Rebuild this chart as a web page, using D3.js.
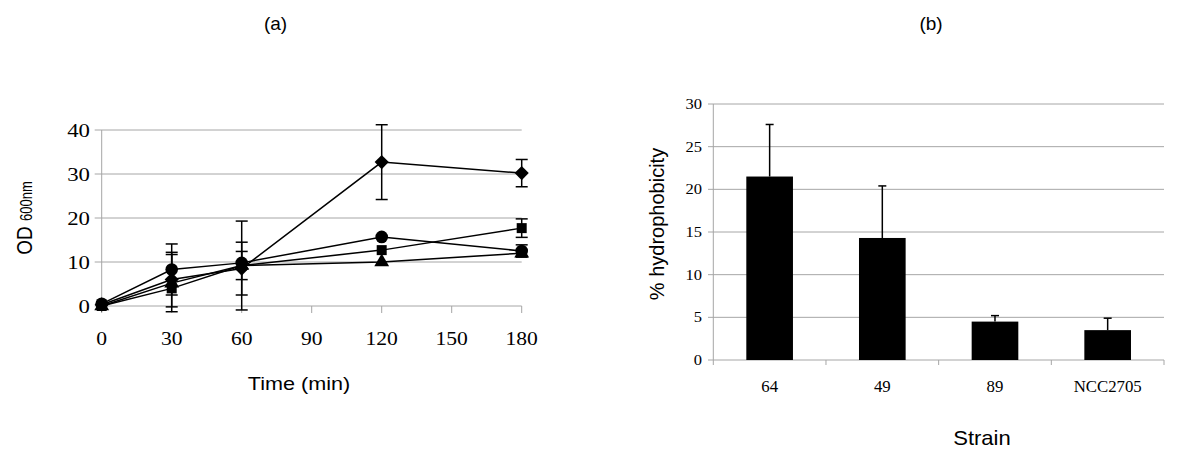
<!DOCTYPE html>
<html><head><meta charset="utf-8">
<script src="https://cdn.jsdelivr.net/npm/d3@7"></script>
<style>body{margin:0;background:#fff}svg{display:block}</style>
</head><body>
<svg id="c" width="1200" height="464"></svg>
<script>
// ---- Panel (a) data ----
const times = [0, 30, 60, 120, 180];
const diamondVals = [0.3, 6.0, 8.5, 32.7, 30.2];
const diamondErr  = [0, 6.2, 6.0, 8.5, 3.1];
const squareVals  = [0.0, 4.0, 9.2, 12.7, 17.7];
const squareErr   = [0, 0, 3.2, 0, 2.1];
const circleVals  = [0.5, 8.3, 9.8, 15.7, 12.5];
const circleErr   = [0, 5.8, 0, 0, 1.4];
const triangleVals= [0.0, 5.2, 9.2, 10.0, 12.0];
const triangleErr = [0, 6.5, 10.1, 0, 0];
const aYTicks = [0, 10, 20, 30, 40];
const aXTicks = [0, 30, 60, 90, 120, 150, 180];

// ---- Panel (b) data ----
const strains = ["64", "49", "89", "NCC2705"];
const hydro    = [21.5, 14.3, 4.5, 3.5];
const hydroErr = [6.1, 6.1, 0.7, 1.4];
const bYTicks = [0, 5, 10, 15, 20, 25, 30];

const svg = d3.select("#c");
const SANS = "'Liberation Sans', Arial, sans-serif";
const SERIF = "'Liberation Serif', 'Times New Roman', serif";
const GRID = "#a6a6a6";

function txt(g, x, y, s, opts) {
  const t = g.append("text")
    .attr("transform", `translate(${x},${y}) ${opts.rot ? "rotate(" + opts.rot + ")" : ""} scale(${opts.sx || 1},1)`)
    .attr("text-anchor", opts.anchor || "middle")
    .attr("font-family", opts.font || SANS)
    .attr("font-size", opts.size || 16)
    .attr("fill", "#000")
    .text(s);
  return t;
}

// ================= Panel (a) =================
const ga = svg.append("g");
const xa = d3.scaleLinear().domain([0, 180]).range([101.7, 521.7]);
const ya = d3.scaleLinear().domain([0, 40]).range([306, 130]);

txt(ga, 275.5, 30, "(a)", {size: 19});

// gridlines
ga.selectAll("line.grid").data(aYTicks.filter(d => d > 0)).enter().append("line")
  .attr("x1", xa(0) - 7).attr("x2", xa(180))
  .attr("y1", d => ya(d)).attr("y2", d => ya(d))
  .attr("stroke", GRID).attr("stroke-width", 1);
// y axis line
ga.append("line").attr("x1", xa(0)).attr("x2", xa(0)).attr("y1", ya(40)).attr("y2", ya(0))
  .attr("stroke", GRID).attr("stroke-width", 1);
ga.append("line").attr("x1", xa(0) - 7).attr("x2", xa(180)).attr("y1", ya(0)).attr("y2", ya(0))
  .attr("stroke", GRID).attr("stroke-width", 1);
// x ticks
ga.selectAll("line.xt").data(aXTicks).enter().append("line")
  .attr("x1", d => xa(d)).attr("x2", d => xa(d)).attr("y1", ya(0)).attr("y2", ya(0) + 7)
  .attr("stroke", GRID).attr("stroke-width", 1);

aYTicks.forEach(d => txt(ga, 90, ya(d) + 7, String(d), {font: SERIF, size: 19, anchor: "end", sx: 1.2}));
aXTicks.forEach(d => txt(ga, xa(d), 345, String(d), {font: SERIF, size: 18, sx: 1.2}));

// axis titles
txt(ga, 299, 390, "Time (min)", {size: 18, sx: 1.2});
const od = ga.append("text")
  .attr("transform", "translate(32,218) rotate(-90) scale(1,1.2)")
  .attr("text-anchor", "middle").attr("font-family", SANS).attr("fill", "#000");
od.append("tspan").attr("font-size", 19).text("OD ");
od.append("tspan").attr("font-size", 13).text("600nm");

const series = [
  {vals: diamondVals, err: diamondErr, sym: "diamond"},
  {vals: squareVals, err: squareErr, sym: "square"},
  {vals: circleVals, err: circleErr, sym: "circle"},
  {vals: triangleVals, err: triangleErr, sym: "triangle"}
];
const line = d3.line().x((d, i) => xa(times[i])).y(d => ya(d));

// error bars
series.forEach(s => {
  s.vals.forEach((v, i) => {
    const e = s.err[i];
    if (!e) return;
    const x = xa(times[i]);
    ga.append("line").attr("x1", x).attr("x2", x).attr("y1", ya(v + e)).attr("y2", ya(v - e))
      .attr("stroke", "#000").attr("stroke-width", 1.5);
    [v + e, v - e].forEach(w => ga.append("line").attr("x1", x - 6).attr("x2", x + 6)
      .attr("y1", ya(w)).attr("y2", ya(w)).attr("stroke", "#000").attr("stroke-width", 1.5));
  });
});
// lines
series.forEach(s => {
  ga.append("path").attr("d", line(s.vals)).attr("fill", "none").attr("stroke", "#000").attr("stroke-width", 1.5);
});
// markers
const symMap = {
  diamond: {gen: d3.symbol().type(d3.symbolSquare).size(100), rot: 45},
  square: {gen: d3.symbol().type(d3.symbolSquare).size(100), rot: 0},
  circle: {gen: d3.symbol().type(d3.symbolCircle).size(125), rot: 0},
  triangle: {gen: d3.symbol().type(d3.symbolTriangle).size(95), rot: 0}
};
series.forEach(s => {
  const m = symMap[s.sym];
  ga.selectAll(null).data(s.vals).enter().append("path")
    .attr("d", m.gen())
    .attr("transform", (d, i) => `translate(${xa(times[i])},${ya(d)}) rotate(${m.rot})`)
    .attr("fill", "#000");
});

// ================= Panel (b) =================
const gb = svg.append("g");
const xb = d3.scaleBand().domain(strains).range([713.3, 1164]).paddingInner(0.586).paddingOuter(0.293);
const yb = d3.scaleLinear().domain([0, 30]).range([360, 104]);

txt(gb, 931, 30, "(b)", {size: 19});

gb.selectAll(null).data(bYTicks.filter(d => d > 0)).enter().append("line")
  .attr("x1", 708).attr("x2", 1164)
  .attr("y1", d => yb(d)).attr("y2", d => yb(d))
  .attr("stroke", GRID).attr("stroke-width", 1);
gb.append("line").attr("x1", 713.3).attr("x2", 713.3).attr("y1", yb(30)).attr("y2", yb(0))
  .attr("stroke", GRID).attr("stroke-width", 1);
gb.append("line").attr("x1", 708).attr("x2", 1164).attr("y1", yb(0)).attr("y2", yb(0))
  .attr("stroke", GRID).attr("stroke-width", 1);
const step = xb.step();
const bandEdges = d3.range(strains.length + 1).map(i => 713.3 + i * step);
gb.selectAll(null).data(bandEdges).enter().append("line")
  .attr("x1", d => d).attr("x2", d => d).attr("y1", yb(0)).attr("y2", yb(0) + 5)
  .attr("stroke", GRID).attr("stroke-width", 1);

bYTicks.forEach(d => txt(gb, 702, yb(d) + 5, String(d), {font: SERIF, size: 15, anchor: "end", sx: 1.1}));
strains.forEach(d => txt(gb, xb(d) + xb.bandwidth() / 2, 392, d, {font: SERIF, size: 16, sx: 1.05}));

gb.selectAll(null).data(hydro).enter().append("rect")
  .attr("x", (d, i) => xb(strains[i])).attr("width", xb.bandwidth())
  .attr("y", d => yb(d)).attr("height", d => yb(0) - yb(d))
  .attr("fill", "#000");
hydro.forEach((v, i) => {
  const x = xb(strains[i]) + xb.bandwidth() / 2;
  gb.append("line").attr("x1", x).attr("x2", x).attr("y1", yb(v)).attr("y2", yb(v + hydroErr[i]))
    .attr("stroke", "#000").attr("stroke-width", 1.5);
  gb.append("line").attr("x1", x - 4).attr("x2", x + 4).attr("y1", yb(v + hydroErr[i])).attr("y2", yb(v + hydroErr[i]))
    .attr("stroke", "#000").attr("stroke-width", 1.5);
});

txt(gb, 982, 445, "Strain", {size: 21, sx: 1.05});
txt(gb, 664, 224, "% hydrophobicity", {size: 20, rot: -90, sx: 1});
</script>
</body></html>
